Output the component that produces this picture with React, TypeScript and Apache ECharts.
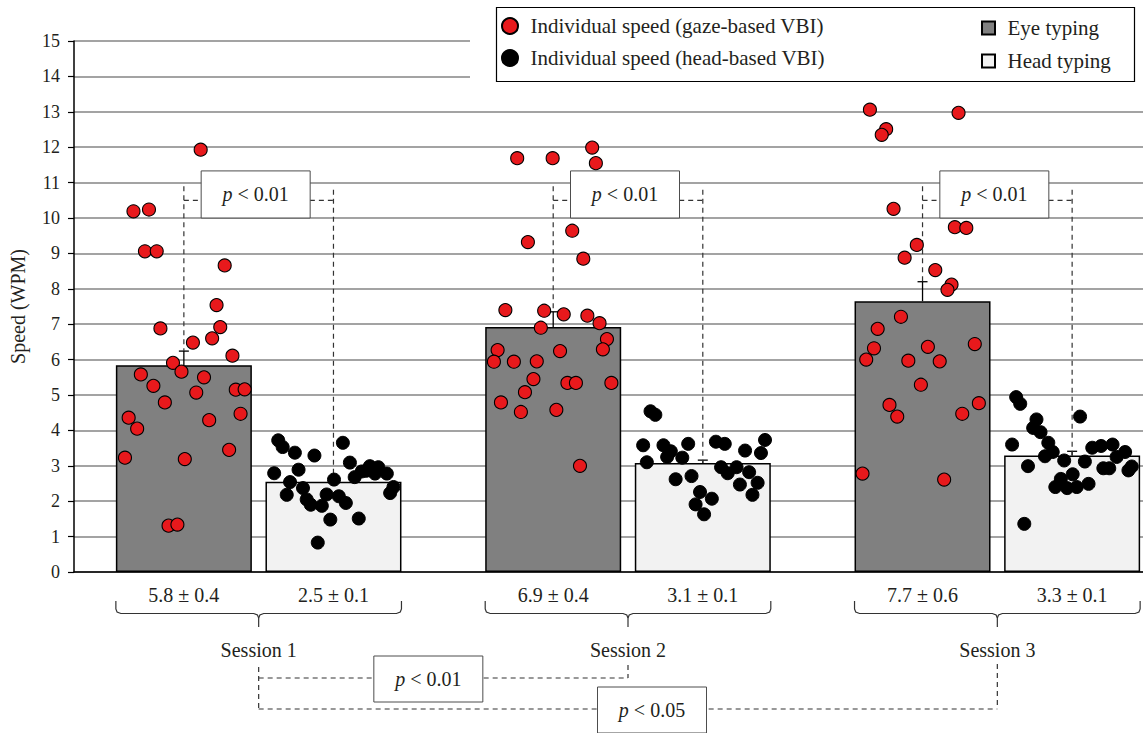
import React, { useEffect, useRef } from 'react';
import * as echarts from 'echarts';

// ---------- data ----------
const sessions = ['Session 1', 'Session 2', 'Session 3'];
const eyeMeans = [5.84, 6.92, 7.65];
const eyeErrors = [0.4, 0.43, 0.55];
const headMeans = [2.55, 3.08, 3.29];
const headErrors = [0.1, 0.08, 0.12];
const eyeLabels = ['5.8 ± 0.4', '6.9 ± 0.4', '7.7 ± 0.6'];
const headLabels = ['2.5 ± 0.1', '3.1 ± 0.1', '3.3 ± 0.1'];
const withinSessionP = ['0.01', '0.01', '0.01'];
const sessionPairs = [[0, 1], [0, 2]];
const sessionPairP = ['0.01', '0.05'];
const yMin = 0;
const yMax = 15;
const yStep = 1;

// x is position in session units (session i spans i .. i+1)
const gazePoints: number[][] = [
  [0.343, 11.93], [0.161, 10.19], [0.203, 10.24], [0.192, 9.06], [0.224, 9.06], [0.408, 8.66],
  [0.386, 7.54], [0.234, 6.88], [0.396, 6.92], [0.322, 6.48], [0.374, 6.6], [0.429, 6.11],
  [0.268, 5.91], [0.291, 5.66], [0.181, 5.58], [0.352, 5.5], [0.215, 5.26], [0.331, 5.07],
  [0.438, 5.15], [0.462, 5.16], [0.246, 4.79], [0.148, 4.36], [0.366, 4.29], [0.451, 4.47],
  [0.171, 4.05], [0.138, 3.23], [0.3, 3.19], [0.42, 3.45], [0.256, 1.31], [0.28, 1.34],
  [1.2, 11.69], [1.296, 11.69], [1.403, 11.99], [1.413, 11.55], [1.349, 9.64], [1.229, 9.32],
  [1.379, 8.85], [1.168, 7.4], [1.273, 7.38], [1.326, 7.28], [1.39, 7.24], [1.423, 7.03],
  [1.264, 6.9], [1.443, 6.58], [1.432, 6.29], [1.147, 6.27], [1.316, 6.24], [1.137, 5.94],
  [1.191, 5.94], [1.253, 5.95], [1.244, 5.45], [1.336, 5.34], [1.359, 5.34], [1.455, 5.34],
  [1.221, 5.08], [1.156, 4.79], [1.21, 4.52], [1.306, 4.58], [1.37, 3.0],
  [2.155, 13.06], [2.395, 12.97], [2.199, 12.51], [2.187, 12.35], [2.219, 10.26], [2.385, 9.74],
  [2.416, 9.72], [2.282, 9.24], [2.249, 8.88], [2.332, 8.53], [2.376, 8.12], [2.365, 7.97],
  [2.239, 7.21], [2.176, 6.87], [2.166, 6.32], [2.145, 6.0], [2.312, 6.36], [2.439, 6.44],
  [2.259, 5.97], [2.344, 5.95], [2.293, 5.29], [2.208, 4.72], [2.229, 4.39], [2.405, 4.47],
  [2.45, 4.77], [2.135, 2.78], [2.356, 2.61],
];

const headPoints: number[][] = [
  [0.553, 3.72], [0.565, 3.53], [0.598, 3.37], [0.651, 3.29], [0.728, 3.65], [0.542, 2.79],
  [0.608, 2.89], [0.747, 3.09], [0.585, 2.54], [0.62, 2.37], [0.576, 2.18], [0.63, 2.05],
  [0.641, 1.9], [0.671, 1.87], [0.684, 2.19], [0.704, 2.61], [0.717, 2.14], [0.736, 1.95],
  [0.694, 1.48], [0.771, 1.51], [0.66, 0.83], [0.76, 2.68], [0.779, 2.84], [0.801, 2.99],
  [0.824, 2.96], [0.815, 2.78], [0.847, 2.78], [0.865, 2.4], [0.856, 2.23], [0.791, 2.86],
  [1.561, 4.54], [1.574, 4.44], [1.541, 3.58], [1.596, 3.58], [1.616, 3.41], [1.663, 3.62],
  [1.606, 3.25], [1.647, 3.23], [1.551, 3.1], [1.738, 3.68], [1.762, 3.62], [1.817, 3.43],
  [1.871, 3.73], [1.86, 3.36], [1.752, 2.96], [1.77, 2.79], [1.794, 2.96], [1.828, 2.82],
  [1.851, 2.52], [1.803, 2.47], [1.837, 2.18], [1.629, 2.62], [1.672, 2.71], [1.695, 2.26],
  [1.727, 2.07], [1.683, 1.91], [1.706, 1.63],
  [2.551, 4.94], [2.562, 4.75], [2.606, 4.31], [2.597, 4.07], [2.617, 3.95], [2.724, 4.39],
  [2.54, 3.6], [2.638, 3.65], [2.65, 3.39], [2.629, 3.27], [2.583, 2.99], [2.681, 3.15],
  [2.704, 2.76], [2.737, 3.12], [2.672, 2.63], [2.657, 2.4], [2.689, 2.37], [2.715, 2.4],
  [2.747, 2.49], [2.757, 3.51], [2.781, 3.56], [2.812, 3.6], [2.846, 3.39], [2.823, 3.25],
  [2.787, 2.93], [2.803, 2.93], [2.864, 2.98], [2.855, 2.87], [2.573, 1.36],
];

// ---------- style / layout constants ----------
const FONT = '"Liberation Serif", "Times New Roman", serif';
const TEXT = '#231f20';
const DASH = '#333333';
const BAR_W = 136;
const BAR_GAP = 0.1;
const BAR_SHIFT = (BAR_W * (1 + BAR_GAP)) / 2;
const BOX_W = 109;

const NAME_GAZE = 'Individual speed (gaze-based VBI)';
const NAME_HEAD = 'Individual speed (head-based VBI)';
const NAME_EYE = 'Eye typing';
const NAME_HEADT = 'Head typing';
const SQUARE_ICON = 'path://M0,0H10V10H0Z';

function pText(x: number, y: number, val: string) {
  return {
    type: 'text',
    style: {
      text: '{i|p} < ' + val,
      x,
      y,
      align: 'center',
      verticalAlign: 'middle',
      fontFamily: FONT,
      fontSize: 20,
      fill: TEXT,
      rich: { i: { fontStyle: 'italic', fontFamily: FONT, fontSize: 20, fill: TEXT } },
    },
  };
}

function dashed(x1: number, y1: number, x2: number, y2: number) {
  return {
    type: 'line',
    shape: { x1, y1, x2, y2 },
    style: { stroke: DASH, lineWidth: 1.2, lineDash: [5, 4] },
  };
}

function box(cx: number, yTop: number, yBot: number) {
  return {
    type: 'rect',
    shape: { x: cx - BOX_W / 2, y: yTop, width: BOX_W, height: yBot - yTop },
    style: { fill: '#ffffff', stroke: '#4d4d4d', lineWidth: 1 },
  };
}

export default function App() {
  const ref = useRef<HTMLDivElement>(null);

  useEffect(() => {
    if (!ref.current) return;
    const chart = echarts.init(ref.current, null, { renderer: 'svg' });

    const errorData = sessions.flatMap((_, i) => [
      [i, eyeMeans[i], eyeErrors[i], -1],
      [i, headMeans[i], headErrors[i], 1],
    ]);

    const renderError = (params: any, api: any) => {
      const i = api.value(0);
      const m = api.value(1);
      const e = api.value(2);
      const side = api.value(3);
      const base = api.coord([i, m]);
      const top = api.coord([i, m + e]);
      const x = base[0] + side * BAR_SHIFT;
      return {
        type: 'group',
        children: [
          { type: 'line', shape: { x1: x, y1: base[1], x2: x, y2: top[1] }, style: { stroke: '#000', lineWidth: 1.3 } },
          { type: 'line', shape: { x1: x - 5, y1: top[1], x2: x + 5, y2: top[1] }, style: { stroke: '#000', lineWidth: 1.3 } },
        ],
      };
    };

    const renderAnnot = (params: any, api: any) => {
      const i = api.value(0);
      const c = api.coord([i, 0]);
      const cx = c[0];
      const y0 = c[1];
      const eyeX = cx - BAR_SHIFT;
      const headX = cx + BAR_SHIFT;
      const yLine = api.coord([i, 10.5])[1];
      const yTopL = api.coord([i, 10.9])[1];
      const yTopR = api.coord([i, 10.8])[1];
      const yBoxT = api.coord([i, 11.33])[1];
      const yBoxB = api.coord([i, 10.0])[1];
      const yEyeEnd = api.coord([i, eyeMeans[i] + eyeErrors[i]])[1];
      const yHeadEnd = api.coord([i, headMeans[i]])[1];
      const bcx = cx - 3;
      const children: any[] = [
        dashed(eyeX, yTopL, eyeX, yEyeEnd),
        dashed(headX, yTopR, headX, yHeadEnd),
        dashed(eyeX, yLine, headX, yLine),
        box(bcx, yBoxT, yBoxB),
        pText(bcx, (yBoxT + yBoxB) / 2, withinSessionP[i]),
      ];
      children.push({
        type: 'text',
        style: { text: eyeLabels[i], x: eyeX, y: y0 + 23, align: 'center', verticalAlign: 'middle', fontFamily: FONT, fontSize: 20, fill: TEXT },
      });
      children.push({
        type: 'text',
        style: { text: headLabels[i], x: headX, y: y0 + 23, align: 'center', verticalAlign: 'middle', fontFamily: FONT, fontSize: 20, fill: TEXT },
      });
      const x0 = eyeX - BAR_W / 2;
      const x1 = headX + BAR_W / 2;
      const bs = { stroke: '#333', lineWidth: 1.2, fill: null };
      children.push({
        type: 'polyline',
        shape: { points: [[x0, y0 + 29], [x0, y0 + 37], [x0 + 1.2, y0 + 40], [x0 + 5, y0 + 41.5], [cx - 5, y0 + 41.5], [cx - 1.2, y0 + 43], [cx, y0 + 46], [cx, y0 + 55]] },
        style: bs,
      });
      children.push({
        type: 'polyline',
        shape: { points: [[x1, y0 + 29], [x1, y0 + 37], [x1 - 1.2, y0 + 40], [x1 - 5, y0 + 41.5], [cx + 5, y0 + 41.5], [cx + 1.2, y0 + 43], [cx, y0 + 46]] },
        style: bs,
      });
      children.push({
        type: 'text',
        style: { text: sessions[i], x: cx, y: y0 + 78, align: 'center', verticalAlign: 'middle', fontFamily: FONT, fontSize: 20, fill: TEXT },
      });

      if (i === 0) {
        const sx = sessions.map((_, k) => api.coord([k, 0])[0]);
        const [a1, b1] = sessionPairs[0];
        const [a2, b2] = sessionPairs[1];
        const yU = y0 + 106;
        const yL = y0 + 137;
        children.push(dashed(sx[a1], y0 + 95, sx[a1], yL));
        children.push(dashed(sx[a1], yU, sx[b1], yU));
        children.push(dashed(sx[b1], y0 + 93, sx[b1], yU));
        children.push(dashed(sx[a2], yL, sx[b2], yL));
        children.push(dashed(sx[b2], y0 + 92, sx[b2], yL));
        const c1 = (sx[a1] + sx[b1]) / 2 - 15;
        const c2 = (sx[a2] + sx[b2]) / 2 + 24;
        children.push(box(c1, y0 + 84, y0 + 130));
        children.push(pText(c1, y0 + 107, sessionPairP[0]));
        children.push(box(c2, y0 + 115, y0 + 161));
        children.push(pText(c2, y0 + 138, sessionPairP[1]));
      }
      return { type: 'group', children };
    };

    const legendText = { fontFamily: FONT, fontSize: 21, color: TEXT, lineHeight: 22 };

    const option: any = {
      animation: false,
      backgroundColor: '#ffffff',
      textStyle: { fontFamily: FONT, color: TEXT },
      grid: { left: 74, top: 41, width: 1108, bottom: 161, containLabel: false, outerBoundsMode: 'none' },
      legend: [
        {
          data: [{ name: NAME_GAZE, icon: 'circle' }, { name: NAME_HEAD, icon: 'circle' }],
          orient: 'vertical',
          left: 501,
          top: 15,
          padding: 0,
          itemWidth: 31,
          itemHeight: 16,
          itemGap: 10,
          selectedMode: false,
          z: 10,
          textStyle: legendText,
        },
        {
          data: [{ name: NAME_EYE, icon: SQUARE_ICON }, { name: NAME_HEADT, icon: SQUARE_ICON }],
          orient: 'vertical',
          left: 981,
          top: 17,
          padding: 0,
          itemWidth: 28,
          itemHeight: 13,
          itemGap: 11,
          selectedMode: false,
          symbolKeepAspect: true,
          z: 10,
          textStyle: legendText,
        },
      ],
      graphic: [
        { type: 'rect', z: 3, shape: { x: 470, y: 0, width: 700, height: 88 }, style: { fill: '#ffffff' } },
        { type: 'rect', z: 3, shape: { x: 496.5, y: 7.5, width: 638, height: 74 }, style: { fill: '#ffffff', stroke: '#000', lineWidth: 1.2 } },
      ],
      xAxis: [
        {
          type: 'category',
          data: sessions,
          axisLine: { show: true, lineStyle: { color: '#000', width: 1.5 } },
          axisTick: { show: false },
          axisLabel: { show: false },
        },
        { type: 'value', min: 0, max: sessions.length, show: false },
      ],
      yAxis: {
        type: 'value',
        min: yMin,
        max: yMax,
        interval: yStep,
        name: 'Speed (WPM)',
        nameLocation: 'middle',
        nameRotate: 90,
        nameGap: 46,
        nameTextStyle: { fontFamily: FONT, fontSize: 20, color: TEXT },
        axisLine: { show: true, lineStyle: { color: '#000', width: 1.5 } },
        axisTick: { show: true, inside: false, length: 6, lineStyle: { color: '#000', width: 1.2 } },
        axisLabel: { fontFamily: FONT, fontSize: 18, color: TEXT, margin: 14 },
        splitLine: { show: true, lineStyle: { color: '#a3a3a3', width: 1.8 } },
      },
      series: [
        {
          name: NAME_EYE,
          type: 'bar',
          data: eyeMeans,
          barWidth: BAR_W,
          barGap: BAR_GAP * 100 + '%',
          itemStyle: { color: '#808080', borderColor: '#000', borderWidth: 1.5 },
          z: 2,
        },
        {
          name: NAME_HEADT,
          type: 'bar',
          data: headMeans,
          barWidth: BAR_W,
          barGap: BAR_GAP * 100 + '%',
          itemStyle: { color: '#f2f2f2', borderColor: '#000', borderWidth: 1.5 },
          z: 2,
        },
        {
          name: 'errors',
          type: 'custom',
          xAxisIndex: 0,
          yAxisIndex: 0,
          data: errorData,
          encode: { x: 0, y: 1 },
          renderItem: renderError,
          z: 3,
          silent: true,
        },
        {
          name: 'annotations',
          type: 'custom',
          xAxisIndex: 0,
          yAxisIndex: 0,
          clip: false,
          data: sessions.map((_, i) => [i, 0]),
          encode: { x: 0, y: 1 },
          renderItem: renderAnnot,
          z: 4,
          silent: true,
        },
        {
          name: NAME_GAZE,
          type: 'scatter',
          xAxisIndex: 1,
          yAxisIndex: 0,
          data: gazePoints,
          symbol: 'circle',
          symbolSize: 13,
          itemStyle: { color: '#e8191c', borderColor: '#000', borderWidth: 1.1, opacity: 1 },
          z: 6,
        },
        {
          name: NAME_HEAD,
          type: 'scatter',
          xAxisIndex: 1,
          yAxisIndex: 0,
          data: headPoints,
          symbol: 'circle',
          symbolSize: 13,
          itemStyle: { color: '#000000', borderColor: '#000', borderWidth: 1, opacity: 1 },
          z: 6,
        },
      ],
    };

    chart.setOption(option);
    return () => chart.dispose();
  }, []);

  return (
    <div
      ref={ref}
      style={{ position: 'fixed', left: 0, top: 0, width: 1143, height: 733, background: '#fff' }}
    />
  );
}
